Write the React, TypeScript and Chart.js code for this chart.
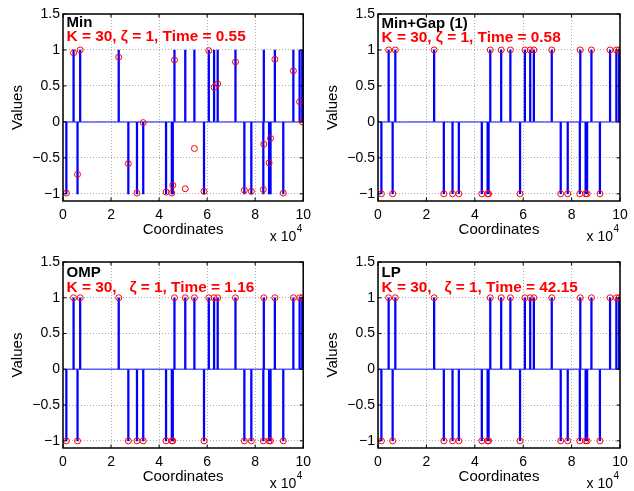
import React, { useEffect, useRef } from 'react';
import { Chart, registerables } from 'chart.js';
Chart.register(...registerables);

// Coordinates of the true support (units of 10^4)
const support = [0.14, 0.44, 0.605, 0.715, 2.32, 2.72, 3.08, 3.34, 4.29, 4.53, 4.57, 4.64, 5.09, 5.47, 5.87, 6.07, 6.29, 6.44, 7.18, 7.55, 7.84, 8.34, 8.36, 8.58, 8.64, 8.82, 9.17, 9.59, 9.85, 9.96];
// True signal values (blue stems)
const trueSignal = [-1, 1, -1, 1, 1, -1, -1, -1, -1, -1, -1, 1, 1, 1, -1, 1, 1, 1, 1, -1, -1, -1, 1, -1, -1, 1, -1, 1, 1, 1];
// Recovered values (red circles)
const minValues = [-0.99, 0.96, -0.73, 1.0, 0.9, -0.58, -0.99, -0.01, -0.975, -0.99, -0.88, 0.86, -0.93, -0.37, -0.965, 0.99, 0.48, 0.53, 0.835, -0.95, -0.965, -0.94, -0.31, -0.57, -0.23, 0.87, -0.99, 0.71, 0.28, 0.0];
const minGapValues = [-1, 1, -1, 1, 1, -1, -1, -1, -1, -1, -1, 1, 1, 1, -1, 1, 1, 1, 1, -1, -1, -1, 1, -1, -1, 1, -1, 1, 1, 1];
const ompValues = [-1, 1, -1, 1, 1, -1, -1, -1, -1, -1, -1, 1, 1, 1, -1, 1, 1, 1, 1, -1, -1, -1, 1, -1, -1, 1, -1, 1, 1, 1];
const lpValues = [-1, 1, -1, 1, 1, -1, -1, -1, -1, -1, -1, 1, 1, 1, -1, 1, 1, 1, 1, -1, -1, -1, 1, -1, -1, 1, -1, 1, 1, 1];

const xTicks = [0, 2, 4, 6, 8, 10];
const yTicks = [-1, -0.5, 0, 0.5, 1, 1.5];
const xRange = [0, 10];
const yRange = [-1.1, 1.5];

const FONT = '"Liberation Sans", Arial, Helvetica, sans-serif';

type Panel = {
  name: string;
  info: string;
  values: number[];
  left: number;
  top: number;
  width: number;
  padTop: number;
  padRight: number;
  nameDy: number;
  infoDy: number;
};

const panels: Panel[] = [
  { name: 'Min', info: 'K = 30, ζ = 1, Time = 0.55', values: minValues, left: 0, top: 0, width: 317, padTop: 14, padRight: 12, nameDy: 13, infoDy: 26.5 },
  { name: 'Min+Gap (1)', info: 'K = 30, ζ = 1, Time = 0.58', values: minGapValues, left: 315, top: 0, width: 319, padTop: 14, padRight: 14, nameDy: 14, infoDy: 27.5 },
  { name: 'OMP', info: 'K = 30,   ζ = 1, Time = 1.16', values: ompValues, left: 0, top: 247, width: 317, padTop: 15, padRight: 12, nameDy: 15, infoDy: 29.5 },
  { name: 'LP', info: 'K = 30,   ζ = 1, Time = 42.15', values: lpValues, left: 315, top: 247, width: 319, padTop: 15, padRight: 14, nameDy: 15, infoDy: 29.5 },
];

function makeOverlay(p: Panel) {
  return {
    id: 'overlay' + p.name.replace(/[^A-Za-z]/g, ''),
    afterDraw(chart: any) {
      const { ctx, chartArea: a } = chart;
      const xs = chart.scales.x;
      const ys = chart.scales.y;
      ctx.save();
      // inward tick marks
      ctx.strokeStyle = '#000';
      ctx.lineWidth = 1;
      ctx.beginPath();
      const tl = 3.5;
      xTicks.forEach((v) => {
        const px = xs.getPixelForValue(v);
        ctx.moveTo(px, a.bottom);
        ctx.lineTo(px, a.bottom - tl);
        ctx.moveTo(px, a.top);
        ctx.lineTo(px, a.top + tl);
      });
      yTicks.forEach((v) => {
        const py = ys.getPixelForValue(v);
        ctx.moveTo(a.left, py);
        ctx.lineTo(a.left + tl, py);
        ctx.moveTo(a.right, py);
        ctx.lineTo(a.right - tl, py);
      });
      ctx.stroke();
      // box
      ctx.lineWidth = 1.5;
      ctx.strokeRect(a.left, a.top, a.right - a.left, a.bottom - a.top);
      // titles
      ctx.textAlign = 'left';
      ctx.textBaseline = 'alphabetic';
      ctx.font = `bold 15px ${FONT}`;
      ctx.fillStyle = '#000';
      ctx.fillText(p.name, a.left + 3.5, a.top + p.nameDy);
      ctx.font = `bold 15.4px ${FONT}`;
      ctx.fillStyle = '#ff0000';
      ctx.fillText(p.info, a.left + 3.5, a.top + p.infoDy);
      // exponent label
      ctx.fillStyle = '#000';
      ctx.font = `14px ${FONT}`;
      ctx.textAlign = 'right';
      ctx.textBaseline = 'middle';
      ctx.fillText('x 10', a.right - 7, a.bottom + 36);
      ctx.font = `10px ${FONT}`;
      ctx.textAlign = 'left';
      ctx.fillText('4', a.right - 6.5, a.bottom + 28);
      ctx.restore();
    },
  };
}

function StemPanel({ p }: { p: Panel }) {
  const ref = useRef<HTMLCanvasElement | null>(null);
  useEffect(() => {
    if (!ref.current) return;
    const gridColor = 'rgba(0,0,0,0.32)';
    const chart = new Chart(ref.current, {
      type: 'bar',
      data: {
        datasets: [
          {
            type: 'scatter',
            data: support.map((x, i) => ({ x, y: p.values[i] })),
            pointStyle: 'circle',
            pointRadius: 3,
            borderColor: '#ff0000',
            backgroundColor: 'rgba(0,0,0,0)',
            borderWidth: 1,
            order: 0,
          } as any,
          {
            type: 'bar',
            data: support.map((x, i) => ({ x, y: trueSignal[i] })),
            backgroundColor: '#0000ff',
            borderWidth: 0,
            barThickness: 1.6,
            grouped: false,
            order: 1,
          } as any,
          {
            type: 'line',
            data: xRange.map((x) => ({ x, y: 0 })),
            borderColor: 'rgba(40,40,255,0.75)',
            borderWidth: 1.5,
            pointRadius: 0,
            order: 2,
          } as any,
        ],
      },
      options: {
        animation: false,
        responsive: false,
        events: [],
        layout: { padding: { left: 0, top: p.padTop, right: p.padRight, bottom: 0 } },
        plugins: {
          legend: { display: false },
          tooltip: { enabled: false },
        },
        scales: {
          x: {
            type: 'linear',
            min: xRange[0],
            max: xRange[1],
            offset: false,
            afterBuildTicks: (s: any) => {
              s.ticks = xTicks.map((v) => ({ value: v }));
            },
            afterFit: (s: any) => {
              s.height = 44;
            },
            ticks: {
              font: { family: FONT, size: 14 },
              color: '#000',
              padding: 6,
              maxRotation: 0,
              autoSkip: false,
              callback: (v: any) => String(v),
            },
            grid: { color: gridColor, drawTicks: false, offset: false, lineWidth: 1 },
            border: { display: false, dash: [1, 2] },
            title: {
              display: true,
              text: 'Coordinates',
              font: { family: FONT, size: 15 },
              color: '#000',
              padding: { top: 0, bottom: 6 },
            },
          } as any,
          y: {
            type: 'linear',
            min: yRange[0],
            max: yRange[1],
            afterBuildTicks: (s: any) => {
              s.ticks = yTicks.map((v) => ({ value: v }));
            },
            afterFit: (s: any) => {
              s.width = 63;
            },
            ticks: {
              font: { family: FONT, size: 14 },
              color: '#000',
              padding: 3,
              autoSkip: false,
              callback: (v: any) => String(v).replace('-', '\u2212'),
            },
            grid: { color: gridColor, drawTicks: false, lineWidth: 1 },
            border: { display: false, dash: [1, 2] },
            title: {
              display: true,
              text: 'Values',
              font: { family: FONT, size: 15 },
              color: '#000',
              padding: { top: 9, bottom: 0 },
            },
          } as any,
        },
      },
      plugins: [makeOverlay(p) as any],
    });
    return () => chart.destroy();
  }, [p]);
  return (
    <canvas
      ref={ref}
      width={p.width}
      height={245}
      style={{ position: 'absolute', left: p.left, top: p.top, width: p.width, height: 245 }}
    />
  );
}

export default function App() {
  return (
    <div
      style={{
        position: 'absolute',
        left: 0,
        top: 0,
        width: 634,
        height: 491,
        overflow: 'hidden',
        background: '#fff',
      }}
    >
      {panels.map((p) => (
        <StemPanel key={p.name} p={p} />
      ))}
    </div>
  );
}
